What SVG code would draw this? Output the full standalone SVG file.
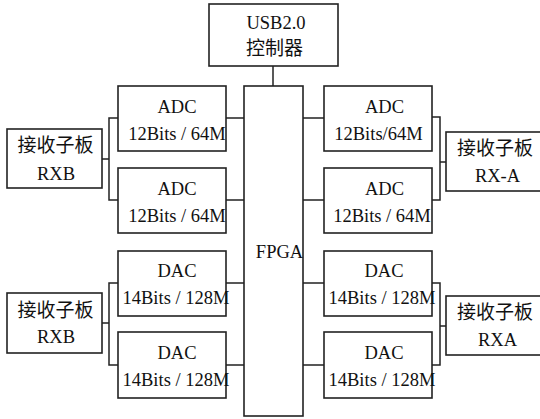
<svg xmlns="http://www.w3.org/2000/svg" width="540" height="419" viewBox="0 0 540 419">
<style>
rect{fill:#fff;stroke:#222;stroke-width:1.6}
.c path{fill:none;stroke:#222;stroke-width:1.5}
text{font-family:'Liberation Serif','DejaVu Serif','Times New Roman',serif;font-size:18.5px;fill:#111;text-anchor:middle}
text.cj{font-family:'Noto Sans CJK SC','Liberation Serif',serif;font-size:19px}
</style>
<rect x="0" y="0" width="540" height="419" style="stroke:none"/>
<g class="c" id="connectors">
<path d="M273 66V86"/>
<path d="M226 118H244M226 200H244M226 283H244M226 365H244"/>
<path d="M303 118H324M303 200H324M303 283H324M303 365H324"/>
<path d="M118 118H109V200H118M102 159H109"/>
<path d="M118 283H109V365H118M102 323H109"/>
<path d="M432 117H440V200H432M440 162H446"/>
<path d="M432 283H440V365H432M440 326H446"/>
</g>
<g id="usb"><rect x="209" y="4" width="129" height="62"/><text x="276" y="29">USB2.0</text><text class="cj" x="274.5" y="55">控制器</text></g>
<g id="fpga"><rect x="244" y="86" width="59" height="330"/><text x="279.5" y="258">FPGA</text></g>
<g id="adc-l1"><rect x="118" y="86" width="108" height="65"/><text x="177" y="113">ADC</text><text x="177" y="140">12Bits / 64M</text></g>
<g id="adc-l2"><rect x="118" y="168" width="108" height="65"/><text x="177" y="195">ADC</text><text x="177" y="222">12Bits / 64M</text></g>
<g id="dac-l1"><rect x="118" y="251" width="108" height="65"/><text x="177" y="277">DAC</text><text x="176" y="304">14Bits / 128M</text></g>
<g id="dac-l2"><rect x="118" y="332" width="108" height="66"/><text x="177" y="359">DAC</text><text x="176" y="386">14Bits / 128M</text></g>
<g id="adc-r1"><rect x="324" y="86" width="108" height="65"/><text x="384.5" y="113">ADC</text><text x="378.5" y="140">12Bits/64M</text></g>
<g id="adc-r2"><rect x="324" y="168" width="108" height="65"/><text x="384.5" y="195">ADC</text><text x="382" y="222">12Bits / 64M</text></g>
<g id="dac-r1"><rect x="324" y="251" width="108" height="65"/><text x="384" y="277">DAC</text><text x="382" y="304">14Bits / 128M</text></g>
<g id="dac-r2"><rect x="324" y="332" width="108" height="66"/><text x="384" y="359">DAC</text><text x="382" y="386">14Bits / 128M</text></g>
<g id="rxb1"><rect x="7" y="129" width="95" height="59"/><text class="cj" x="55.5" y="152">接收子板</text><text x="56" y="180">RXB</text></g>
<g id="rxb2"><rect x="7" y="293" width="95" height="60"/><text class="cj" x="55.5" y="317">接收子板</text><text x="56" y="343">RXB</text></g>
<g id="rxa1"><rect x="446" y="132" width="95" height="59"/><text class="cj" x="495" y="155">接收子板</text><text x="497.5" y="182">RX-A</text></g>
<g id="rxa2"><rect x="446" y="296" width="95" height="59"/><text class="cj" x="495" y="319">接收子板</text><text x="497.5" y="346">RXA</text></g>
</svg>
